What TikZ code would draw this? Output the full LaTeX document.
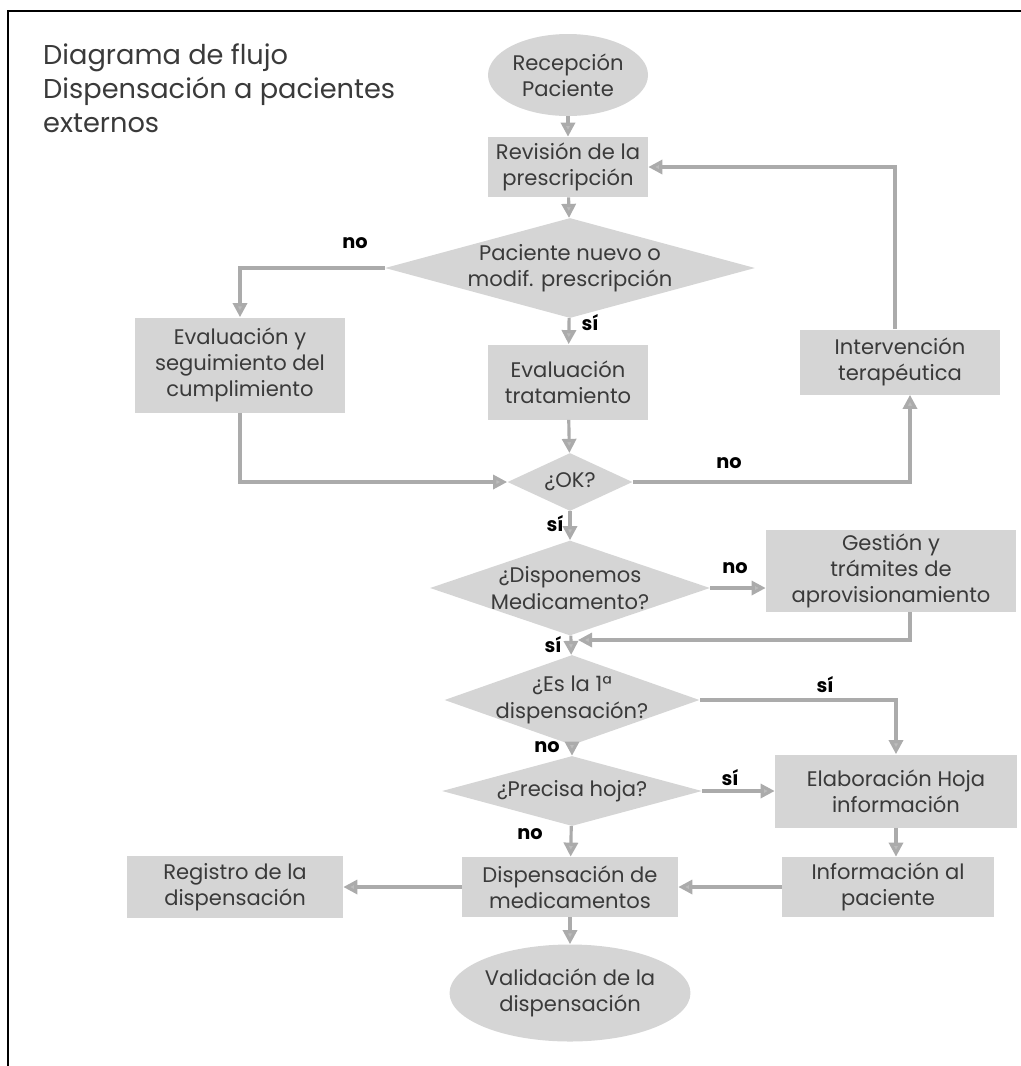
\documentclass[tikz,border=0pt]{standalone}
\usepackage{fontspec}
\setmainfont{Poppins}
\usetikzlibrary{positioning,shapes.geometric,arrows.meta}

\definecolor{relleno}{HTML}{D5D5D5}
\definecolor{linea}{HTML}{ABABAB}
\definecolor{texto}{HTML}{3A3A3A}
\newcommand{\pxu}{0.02cm}

\tikzset{
  caja/.style={rectangle, fill=relleno, text=texto, align=center,
    font=\fontsize{12}{15}\selectfont, inner sep=0pt},
  elipse/.style={ellipse, fill=relleno, text=texto, align=center,
    font=\fontsize{12}{15}\selectfont, inner sep=0pt},
  rombo/.style={diamond, fill=relleno, text=texto, align=center,
    font=\fontsize{12}{15}\selectfont, inner xsep=-8pt, inner ysep=-3pt},
  tam/.style 2 args={minimum width=#1*\pxu, minimum height=#2*\pxu},
  flecha/.style={draw=linea, line width=1.8pt,
    -{Triangle[length=8pt,width=8pt,fill=linea!80]}},
  etiq/.style={font=\fontsize{11}{13}\bfseries\selectfont, text=black}
}

\begin{document}
\begin{tikzpicture}[x=0.02cm,y=0.02cm]
  \useasboundingbox (0,0) rectangle (1021,-1066);
  \draw[line width=1.4pt] (8,-1066) -- (8,-11) -- (1021,-11);

  \node[anchor=north west, align=left, text=texto,
        font=\fontsize{15.5}{19.5}\selectfont] (titulo) at (37,-37)
    {Diagrama de flujo\\Dispensación a pacientes\\externos};

  % columna central
  \node[elipse, tam={160}{82}] (recep) at (568,-75) {Recepción\\Paciente};
  \node[caja, tam={160}{60}] (revis) at (568,-167) {Revisión de la\\prescripción};
  \node[rombo, tam={370}{100}, aspect=3.7] (pnuevo) at (570,-268) {Paciente nuevo o\\modif. prescripción};
  \node[caja, tam={160}{75}] (evaltrat) at (568,-382) {Evaluación\\tratamiento};
  \node[rombo, tam={125}{58}, aspect=2.15] (ok) at (570,-482) {¿OK?};
  \node[rombo, tam={280}{95}, aspect=2.95] (dispon) at (570,-588) {¿Disponemos\\Medicamento?};
  \node[rombo, tam={255}{90}, aspect=2.83] (es1) at (572,-700) {¿Es la 1ª\\dispensación?};
  \node[rombo, tam={260}{70}, aspect=3.7] (precisa) at (572,-791) {¿Precisa hoja?};
  \node[caja, tam={216}{60}] (dispen) at (570,-887) {Dispensación de\\medicamentos};
  \node[elipse, tam={240}{97}] (valid) at (570,-993) {Validación de la\\dispensación};

  % laterales
  \node[caja, tam={210}{95}] (evalseg) at (240,-365) {Evaluación y\\seguimiento del\\cumplimiento};
  \node[caja, tam={200}{65}] (interv) at (900,-362) {Intervención\\terapéutica};
  \node[caja, tam={250}{82}] (gestion) at (891,-571) {Gestión y\\trámites de\\aprovisionamiento};
  \node[caja, tam={242}{73}] (elab) at (896,-791) {Elaboración Hoja\\información};
  \node[caja, tam={212}{60}] (info) at (888,-887) {Información al\\paciente};
  \node[caja, tam={216}{62}] (registro) at (235,-887) {Registro de la\\dispensación};

  \coordinate (junta) at (578,-640);

  % etiquetas
  \node[etiq] (no1) at (355,-243) {no};
  \node[etiq] (si1) at (590,-323) {sí};
  \node[etiq] (no2) at (729,-463) {no};
  \node[etiq] (si2) at (555,-524) {sí};
  \node[etiq] (no3) at (735,-568) {no};
  \node[etiq] (si3) at (553,-645) {sí};
  \node[etiq] (si4) at (825,-685) {sí};
  \node[etiq] (no4) at (547,-747) {no};
  \node[etiq] (si5) at (730,-778) {sí};
  \node[etiq] (no5) at (530,-834) {no};

  \draw[flecha] (recep) -- (revis);
  \draw[flecha] (revis) -- (pnuevo);
  \draw[flecha] (pnuevo.west) -| (evalseg.north);
  \draw[flecha] (pnuevo) -- (evaltrat);
  \draw[flecha] (evaltrat) -- (ok);
  \draw[flecha] (evalseg.south) |- (ok.west);
  \draw[flecha] (ok.east) -| ([xshift=0.2cm]interv.south);
  \draw[flecha] ([xshift=-0.1cm]interv.north) |- (revis.east);
  \draw[flecha] (ok) -- (dispon);
  \draw[flecha] (dispon.east) -- (dispon.east -| gestion.west);
  \draw[flecha] ([xshift=0.38cm]gestion.south) |- (junta);
  \draw[flecha] (dispon) -- (es1);
  \draw[flecha] (es1.east) -| (elab.north);
  \draw[flecha] (es1) -- (precisa);
  \draw[flecha] (precisa.east) -- (elab.west);
  \draw[flecha] (precisa) -- (dispen);
  \draw[flecha] (elab.south) -- (info.north -| elab.south);
  \draw[flecha] (info.west) -- (dispen.east);
  \draw[flecha] (dispen.west) -- (registro.east);
  \draw[flecha] (dispen) -- (valid);
\end{tikzpicture}
\end{document}
